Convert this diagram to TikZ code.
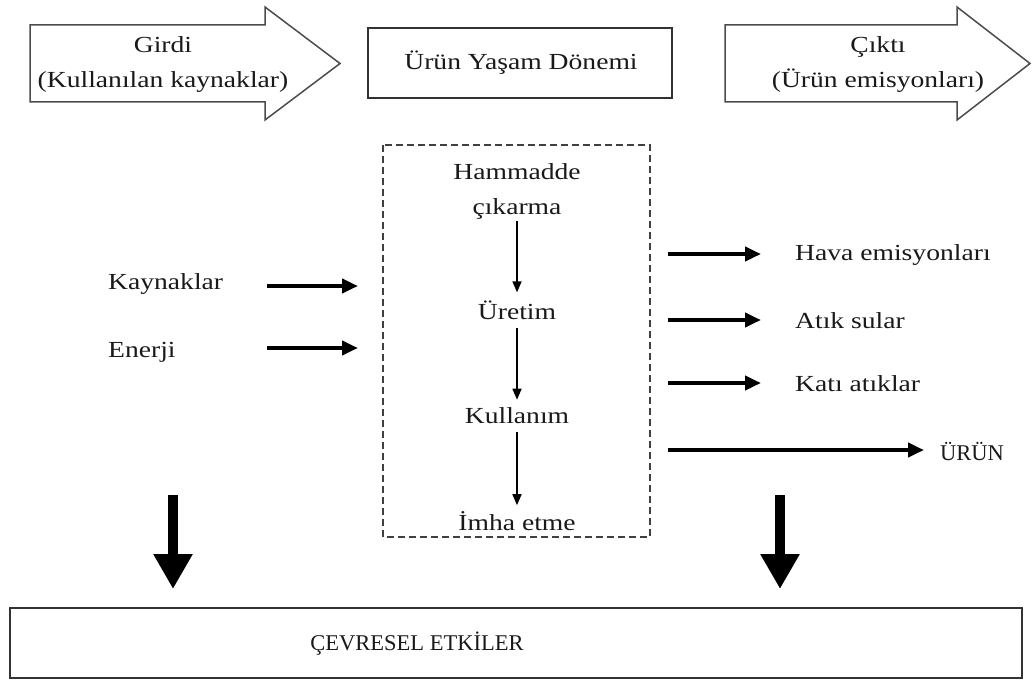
\documentclass[tikz,border=0pt]{standalone}
\usepackage{fontspec}
\setmainfont{Liberation Serif}
\newfontfamily\widefont[FakeStretch=1.2]{Liberation Serif}
\usetikzlibrary{arrows.meta}

\begin{document}
\begin{tikzpicture}[x=1pt,y=-1pt,
  txt/.style={font=\widefont\fontsize{23}{35}\selectfont, inner sep=0pt, align=center, text=black!90},
  capstxt/.style={txt, font=\rmfamily\fontsize{22.5}{35}\selectfont},
  blockarrow/.style={draw=black!70, line width=1.5pt, fill=white, line join=miter},
  framebox/.style={draw=black!80, line width=2pt},
  flow/.style={draw=black!70, line width=1.6pt, -{Triangle[length=11pt,width=9pt]}, black},
  thick arrow/.style={line width=4pt, -{Triangle[length=16pt,width=14pt]}},
  big arrow/.style={line width=10pt, -{Triangle[length=35pt,width=37pt]}}
]
\useasboundingbox (0,0) rectangle (1032,682);

% top row: input arrow, life-cycle box, output arrow
\draw[blockarrow] (30,25) -- (265,25) -- (265,7) -- (340,63.5) -- (265,120) -- (265,102) -- (30,102) -- cycle;
\node[txt] (girdi) at (163,65) {Girdi\\(Kullanılan kaynaklar)};

\node[framebox, minimum width=304pt, minimum height=70pt, inner sep=0pt] (donem) at (520,63) {};
\node[txt] (donemtxt) at (521,63) {Ürün Yaşam Dönemi};

\draw[blockarrow] (725,25) -- (957,25) -- (957,7) -- (1030,63.5) -- (957,120) -- (957,102) -- (725,102) -- cycle;
\node[txt] (cikti) at (878,65) {Çıktı\\(Ürün emisyonları)};

% life-cycle stages
\draw[draw=black!75, line width=1.3pt, dash pattern=on 7pt off 4pt] (383,145) rectangle (650,537);
\node[txt, text depth=0pt] (ham) at (517,189) {Hammadde\\çıkarma};
\node[txt] (uretim) at (517,310) {Üretim};
\node[txt] (kullanim) at (517,416) {Kullanım};
\node[txt] (imha) at (517,521) {İmha etme};

\draw[flow, shorten <=6pt, shorten >=8pt] (ham.south) -- (uretim.north);
\draw[flow, shorten <=8pt, shorten >=8pt] (uretim.south) -- (kullanim.north);
\draw[flow, shorten <=8pt, shorten >=6pt] (kullanim.south) -- (imha.north);

% inputs
\node[txt, anchor=west] (kaynak) at (108,284) {Kaynaklar};
\node[txt, anchor=west] (enerji) at (108,352) {Enerji};
\coordinate (k1) at (267,286); \coordinate (k2) at (358,286);
\coordinate (e1) at (267,348); \coordinate (e2) at (358,348);
\draw[thick arrow] (k1) -- (k2);
\draw[thick arrow] (e1) -- (e2);

% outputs
\node[txt, anchor=west] (hava) at (795,255) {Hava emisyonları};
\node[txt, anchor=west] (atiksu) at (795,321) {Atık sular};
\node[txt, anchor=west] (kati) at (795,384) {Katı atıklar};
\node[capstxt, anchor=west] (urun) at (940,451) {ÜRÜN};
\coordinate (h1) at (668,254); \coordinate (h2) at (761,254);
\coordinate (a1) at (668,320); \coordinate (a2) at (761,320);
\coordinate (t1) at (668,383); \coordinate (t2) at (761,383);
\coordinate (u1) at (668,450); \coordinate (u2) at (924,450);
\draw[thick arrow] (h1) -- (h2);
\draw[thick arrow] (a1) -- (a2);
\draw[thick arrow] (t1) -- (t2);
\draw[thick arrow] (u1) -- (u2);

% environmental impacts
\node[framebox, minimum width=1012pt, minimum height=70pt, inner sep=0pt] (etki) at (516,643) {};
\node[capstxt] (etkitxt) at (417,644) {ÇEVRESEL ETKİLER};
\coordinate (d1) at (173,495); \coordinate (d2) at (173,589);
\coordinate (d3) at (780,495); \coordinate (d4) at (780,589);
\draw[big arrow] (d1) -- (d2);
\draw[big arrow] (d3) -- (d4);
\end{tikzpicture}
\end{document}
